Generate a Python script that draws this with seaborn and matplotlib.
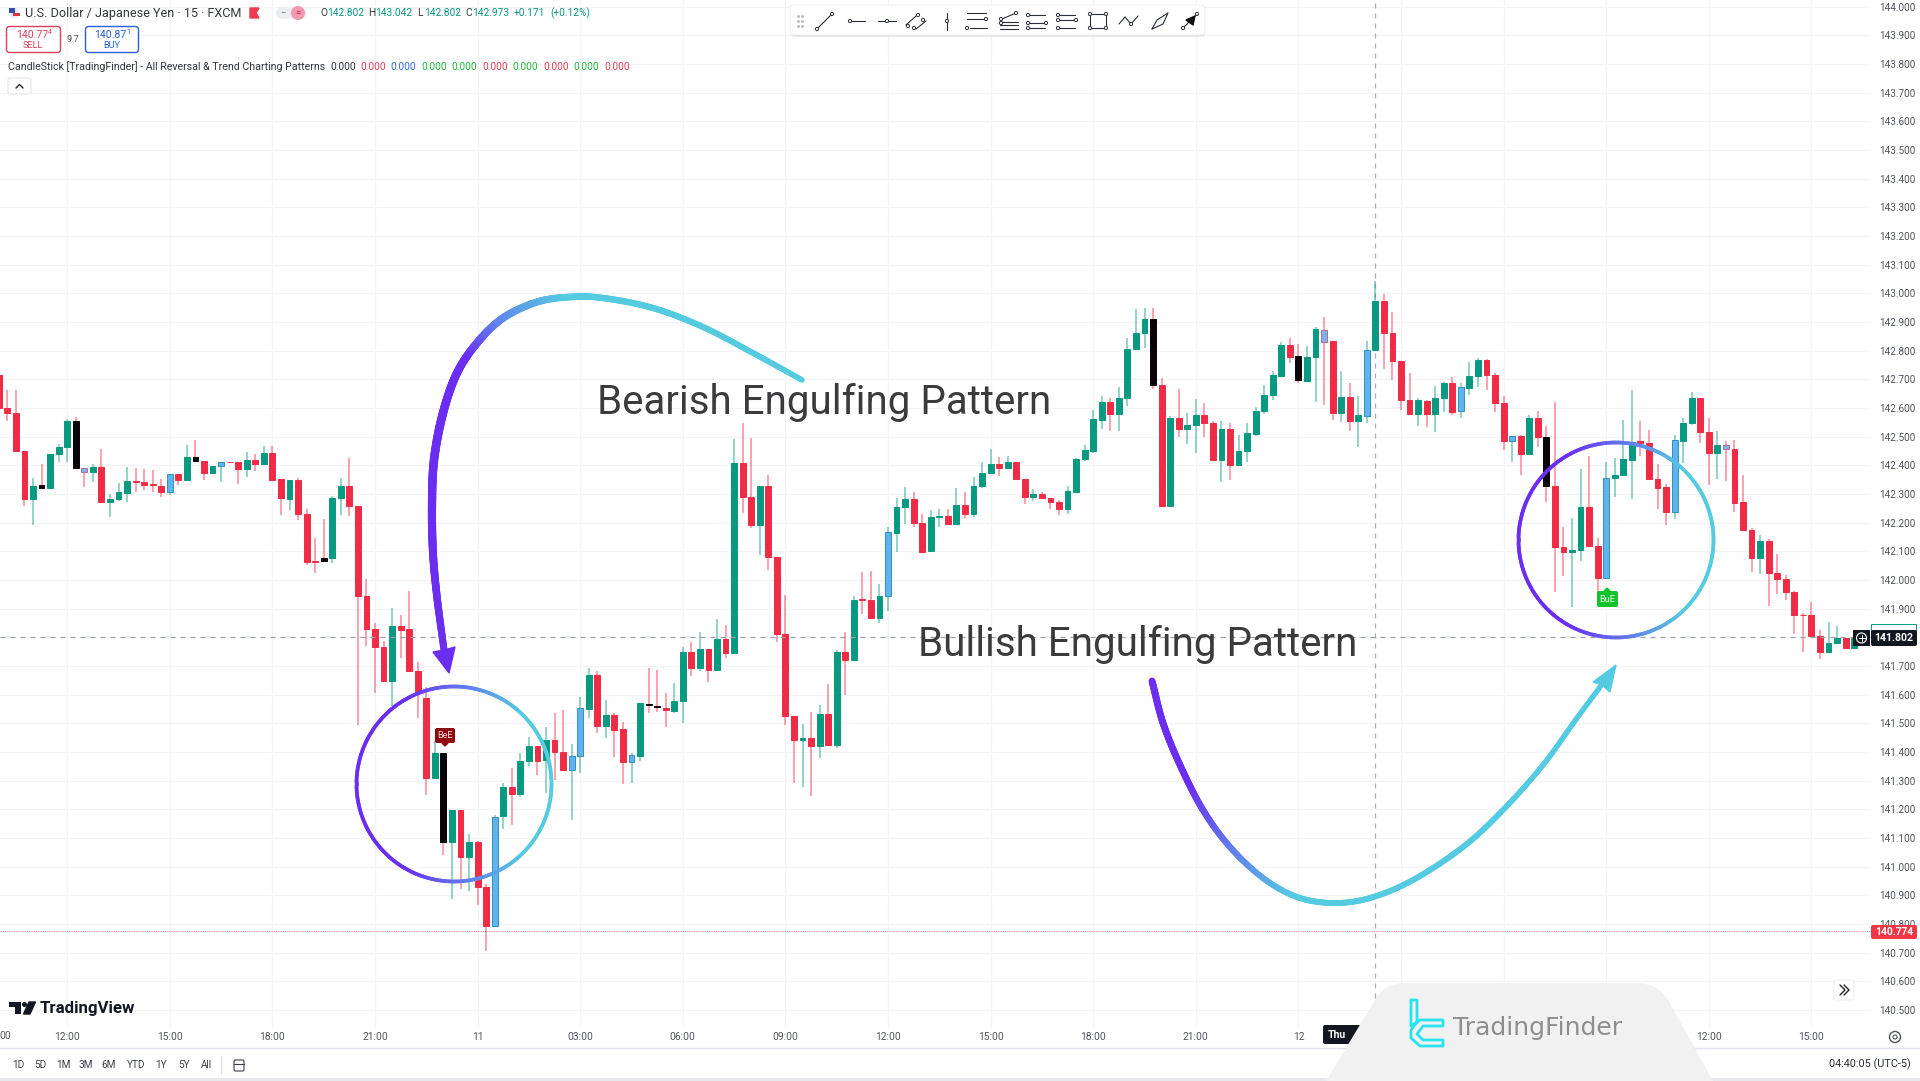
# USD/JPY 15m candles with engulfing pattern notes

import numpy as np
import pandas as pd
import seaborn as sns
import matplotlib.pyplot as plt
from matplotlib.collections import LineCollection
from matplotlib.patches import Circle, FancyBboxPatch, PathPatch, Polygon, Rectangle
from matplotlib.path import Path

# candle data, first candle is bar -56, bar 0 is the "11" tick
highs = [
    142.714,142.664,142.664,142.451,142.356,142.405,142.438,142.474,142.561,142.567,
    142.390,142.405,142.457,142.300,142.338,142.394,142.391,142.387,142.383,142.351,
    142.371,142.371,142.471,142.487,142.415,142.398,142.413,142.413,142.410,142.445,
    142.441,142.467,142.467,142.351,142.348,142.356,142.247,142.147,142.211,142.294,
    142.356,142.426,142.259,142.004,141.849,141.786,141.903,141.876,141.960,141.713,
    141.626,141.439,141.395,141.199,141.199,141.112,141.088,140.939,141.179,141.292,
    141.343,141.398,141.451,141.422,141.488,141.535,141.547,141.428,141.591,141.694,
    141.684,141.581,141.537,141.503,141.398,141.572,141.692,141.686,141.605,141.642,
    141.765,141.785,141.820,141.759,141.863,141.843,142.491,142.547,142.494,142.328,
    142.366,142.081,141.948,141.527,141.498,141.541,141.564,141.637,141.756,141.817,
    141.944,142.027,142.031,141.986,142.186,142.285,142.323,142.306,142.230,142.244,
    142.247,142.247,142.320,142.306,142.358,142.413,142.456,142.428,142.433,142.413,
    142.352,142.316,142.305,142.287,142.279,142.328,142.424,142.469,142.593,142.643,
    142.634,142.672,142.843,142.944,142.950,142.950,142.703,142.573,142.666,142.584,
    142.630,142.616,142.555,142.555,142.547,142.506,142.549,142.602,142.680,142.729,
    142.831,142.843,142.823,142.817,142.881,142.916,142.835,142.729,142.686,142.642,
    142.835,143.042,142.997,142.933,142.762,142.723,142.636,142.626,142.678,142.690,
    142.709,142.686,142.759,142.773,142.770,142.723,142.642,142.502,142.506,142.576,
    142.590,142.538,142.622,142.183,142.217,142.386,142.433,142.145,142.413,142.427,
    142.558,142.663,142.555,142.523,142.405,142.335,142.506,142.564,142.655,142.634,
    142.566,142.520,142.483,142.488,142.366,142.180,142.157,142.142,142.091,142.017,
    141.962,141.884,141.924,141.826,141.852,141.840,141.799,141.802]

lows = [
    142.601,142.554,142.451,142.258,142.191,142.320,142.320,142.410,142.410,142.390,
    142.324,142.343,142.271,142.220,142.274,142.271,142.307,142.314,142.307,142.290,
    142.298,142.330,142.347,142.410,142.350,142.374,142.343,142.410,142.335,142.360,
    142.381,142.401,142.350,142.227,142.243,142.210,142.051,142.024,142.067,142.060,
    142.227,142.223,141.495,141.769,141.606,141.649,141.559,141.726,141.680,141.519,
    141.250,141.308,141.039,140.888,140.923,140.915,140.865,140.705,140.794,141.132,
    141.146,141.244,141.352,141.320,141.256,141.302,141.337,141.163,141.328,141.520,
    141.467,141.448,141.384,141.288,141.293,141.370,141.537,141.541,141.488,141.535,
    141.502,141.665,141.684,141.645,141.686,141.727,141.744,142.233,142.180,142.087,
    142.035,141.783,141.494,141.291,141.277,141.248,141.378,141.424,141.413,141.599,
    141.719,141.881,141.866,141.849,141.893,142.099,142.195,142.184,142.095,142.100,
    142.186,142.195,142.195,142.215,142.219,142.320,142.370,142.363,142.390,142.349,
    142.265,142.277,142.284,142.247,142.227,142.229,142.308,142.416,142.442,142.528,
    142.520,142.521,142.605,142.805,142.808,142.666,142.258,142.258,142.500,142.473,
    142.442,142.498,142.419,142.342,142.349,142.402,142.413,142.503,142.578,142.626,
    142.713,142.758,142.686,142.690,142.620,142.610,142.558,142.552,142.521,142.465,
    142.549,142.802,142.736,142.698,142.593,142.578,142.537,142.533,142.517,142.585,
    142.576,142.564,142.645,142.674,142.663,142.587,142.453,142.413,142.366,142.440,
    142.462,142.273,141.959,142.012,141.905,142.067,142.120,141.942,142.006,142.291,
    142.367,142.281,142.433,142.353,142.247,142.192,142.213,142.409,142.541,142.479,
    142.331,142.352,142.345,142.238,142.174,142.029,142.021,141.909,141.950,141.930,
    141.810,141.750,141.805,141.723,141.748,141.779,141.764,141.764]

body_tops = [
    142.714,142.601,142.581,142.451,142.327,142.330,142.438,142.463,142.554,142.554,
    142.390,142.395,142.395,142.284,142.306,142.344,142.346,142.340,142.335,142.328,
    142.368,142.368,142.430,142.429,142.415,142.397,142.411,142.413,142.410,142.418,
    142.418,142.443,142.443,142.351,142.348,142.348,142.231,142.065,142.076,142.287,
    142.326,142.326,142.259,141.943,141.828,141.766,141.840,141.838,141.828,141.684,
    141.587,141.395,141.395,141.196,141.196,141.085,141.085,140.928,141.172,141.279,
    141.279,141.370,141.422,141.422,141.440,141.440,141.401,141.387,141.552,141.669,
    141.669,141.529,141.529,141.479,141.390,141.570,141.567,141.560,141.553,141.576,
    141.748,141.748,141.758,141.758,141.795,141.795,142.409,142.409,142.288,142.326,
    142.326,142.079,141.810,141.527,141.447,141.448,141.533,141.533,141.748,141.748,
    141.930,141.934,141.930,141.945,142.166,142.253,142.284,142.284,142.200,142.219,
    142.222,142.222,142.262,142.262,142.326,142.372,142.403,142.403,142.412,142.412,
    142.352,142.300,142.299,142.286,142.273,142.309,142.423,142.453,142.562,142.620,
    142.620,142.636,142.806,142.863,142.909,142.909,142.680,142.564,142.564,142.541,
    142.574,142.574,142.549,142.527,142.527,142.451,142.513,142.591,142.644,142.714,
    142.820,142.820,142.780,142.776,142.874,142.872,142.833,142.638,142.638,142.574,
    142.801,142.973,142.973,142.863,142.762,142.628,142.626,142.624,142.636,142.687,
    142.687,142.672,142.712,142.767,142.767,142.716,142.616,142.501,142.502,142.564,
    142.564,142.500,142.328,142.116,142.105,142.255,142.255,142.119,142.356,142.367,
    142.421,142.481,142.484,142.479,142.353,142.323,142.488,142.549,142.634,142.634,
    142.515,142.471,142.469,142.456,142.271,142.174,142.135,142.135,142.023,142.003,
    141.959,141.879,141.876,141.805,141.779,141.798,141.798,141.802]

body_bottoms = [
    142.601,142.581,142.451,142.284,142.284,142.320,142.320,142.438,142.462,142.390,
    142.378,142.378,142.271,142.271,142.284,142.304,142.340,142.332,142.330,142.308,
    142.308,142.347,142.347,142.415,142.374,142.374,142.399,142.410,142.386,142.386,
    142.406,142.406,142.350,142.287,142.284,142.231,142.064,142.064,142.067,142.076,
    142.286,142.259,141.943,141.829,141.766,141.649,141.649,141.826,141.682,141.606,
    141.310,141.308,141.085,141.085,141.035,141.035,140.928,140.794,140.794,141.175,
    141.253,141.253,141.369,141.369,141.372,141.400,141.337,141.337,141.386,141.550,
    141.492,141.492,141.477,141.366,141.366,141.387,141.563,141.556,141.545,141.544,
    141.576,141.694,141.694,141.686,141.686,141.744,141.744,142.288,142.192,142.192,
    142.079,141.810,141.527,141.440,141.440,141.419,141.419,141.424,141.424,141.719,
    141.719,141.930,141.866,141.866,141.945,142.165,142.253,142.198,142.099,142.100,
    142.219,142.195,142.195,142.229,142.229,142.326,142.372,142.390,142.390,142.352,
    142.288,142.288,142.286,142.272,142.248,142.248,142.308,142.422,142.451,142.559,
    142.578,142.578,142.635,142.805,142.863,142.680,142.258,142.258,142.526,142.526,
    142.541,142.549,142.419,142.419,142.402,142.402,142.450,142.510,142.590,142.644,
    142.713,142.779,142.698,142.695,142.776,142.831,142.584,142.584,142.556,142.556,
    142.573,142.802,142.860,142.762,142.626,142.578,142.578,142.579,142.579,142.635,
    142.587,142.588,142.671,142.710,142.716,142.616,142.483,142.483,142.440,142.440,
    142.500,142.328,142.116,142.097,142.097,142.105,142.120,142.006,142.006,142.356,
    142.367,142.420,142.479,142.353,142.322,142.238,142.238,142.486,142.547,142.515,
    142.442,142.442,142.456,142.270,142.174,142.077,142.077,142.023,142.003,141.959,
    141.878,141.876,141.805,141.750,141.750,141.779,141.764,141.764]

# r red, g green, k black pattern, b blue pattern, p purple pattern
kinds = ("rrrrgkgggk" "pgrgggrrrr" "brgkrgbrrg" "rgrrgrrrkg" "grrrrrgrrr"
         "rgkgrgrrbg" "rggrgrrbbg" "rgrrbgkkrg" "grgrgrgrrg" "rrrrgrgrgr"
         "grrgbggrrg" "grgrgggrgr" "rgrrrggggg" "rgggg" "krgrg" "grrgrggggg"
         "grkggprgrg" "bgrrrrgrgg" "rbggrrrbrg" "rkrrggrrbg" "ggrrrrbggr"
         "rgprrrgrrr" "rrrrggrg")
first_bar = -56

price_ticks = [144.0 - 0.1 * i for i in range(36)]
time_bars = [-48, -36, -24, -12, 0, 12, 24, 36, 48, 60, 72, 84, 96, 108, 120, 132, 144, 156]
# the three empty ones sit behind the watermark panel
time_labels = ["12:00", "15:00", "18:00", "21:00", "11", "03:00", "06:00", "09:00", "12:00",
               "15:00", "18:00", "21:00", "12", "", "", "", "12:00", "15:00"]
last_price = 141.802
bid_price = 140.774
cross_bar = 105
range_labels = ["1D", "5D", "1M", "3M", "6M", "YTD", "1Y", "5Y", "All"]

colors_body = {"r": "#F02B46", "g": "#089981", "k": "#0A0408", "b": "#5FB4EE", "p": "#7DB2EA"}
colors_edge = {"r": "#F02B46", "g": "#089981", "k": "#0A0408", "b": "#2F93B8", "p": "#B56C92"}
colors_wick = {"r": "#F02B46", "g": "#089981", "k": "#F02B46", "b": "#089981", "p": "#F02B46"}

df = pd.DataFrame({"bar": np.arange(len(highs)) + first_bar, "high": highs, "low": lows,
                   "top": body_tops, "bottom": body_bottoms, "kind": list(kinds)})
df["height"] = df["top"] - df["bottom"]

sns.set_theme(style="white")
plt.rcParams["font.family"] = ["Roboto", "DejaVu Sans"]

fig = plt.figure(figsize=(19.2, 10.81), dpi=100, facecolor="white")
ax = fig.add_axes([0, 1 - 1028 / 1081, 1871 / 1920, 1028 / 1081])

# grid first, candles on top
ax.hlines(price_ticks, -60, 170, color="#F3F4F6", lw=0.9, zorder=0)
ax.vlines(time_bars, 140, 145, color="#F3F4F6", lw=0.9, zorder=0)

# wicks
for kind, group in df.groupby("kind"):
    ax.vlines(group["bar"], group["low"], group["high"], color=colors_wick[kind],
              lw=1.1, alpha=0.55, zorder=2)

# bodies through seaborn, then coloured per candle
sns.barplot(data=df, x="bar", y="height", bottom=df["bottom"].values, native_scale=True,
            width=0.68, errorbar=None, color="#089981", ax=ax, zorder=3)
for patch, kind in zip(ax.patches, df["kind"]):
    patch.set_facecolor(colors_body[kind])
    patch.set_edgecolor(colors_edge[kind])
    patch.set_linewidth(0.7)

# crosshair and price lines
ax.axhline(last_price, color="#9A9EA6", lw=0.9, ls=(0, (4, 4)), zorder=4)
ax.axvline(cross_bar, color="#A8ACB3", lw=0.9, ls=(0, (4, 4)), zorder=1)
ax.axhline(bid_price, color="#F23645", lw=0.8, ls=(0, (1, 1)), alpha=0.6, zorder=4)

ax.set_xlim(-55.86, 162.97)
ax.set_ylim(140.437, 144.023)
ax.yaxis.tick_right()
ax.set_yticks(price_ticks)
# 141.800 is covered by the crosshair tag
ax.set_yticklabels(["" if abs(p - 141.8) < 0.01 else "%.3f" % p for p in price_ticks],
                   fontsize=7.2, color="#50535E")
ax.set_xticks(time_bars)
ax.set_xticklabels(time_labels, fontsize=7.4, color="#50535E")
ax.tick_params(axis="y", length=0, pad=6)
ax.tick_params(axis="x", length=0, pad=3)
ax.set_xlabel("")
ax.set_ylabel("")
sns.despine(ax=ax, left=True, bottom=True, right=True, top=True)
ax.set_facecolor("none")

# pixel overlay for notes and the trading platform chrome
ov = fig.add_axes([0, 0, 1, 1], facecolor="none")
ov.set_xlim(0, 1920)
ov.set_ylim(1081, 0)
ov.axis("off")


def smooth(points, k=30):
    p = np.array(points, dtype=float)
    p = np.vstack([2 * p[0] - p[1], p, 2 * p[-1] - p[-2]])
    out = []
    for i in range(1, len(p) - 2):
        t = np.linspace(0, 1, k, endpoint=False)[:, None]
        out.append(0.5 * (2 * p[i] + (p[i + 1] - p[i - 1]) * t
                          + (2 * p[i - 1] - 5 * p[i] + 4 * p[i + 1] - p[i + 2]) * t ** 2
                          + (3 * p[i] - p[i - 1] - 3 * p[i + 1] + p[i + 2]) * t ** 3))
    out.append(p[-2][None, :])
    return np.vstack(out)


def gradient_line(xy, stops, cols, widths):
    # stops go along the path from 0 to 1
    d = np.r_[0, np.cumsum(np.hypot(*np.diff(xy, axis=0).T))]
    t = d / d[-1]
    rgb = np.array([plt.matplotlib.colors.to_rgb(c) for c in cols])
    seg_col = np.c_[[np.interp(t[:-1], stops, rgb[:, j]) for j in range(3)]].T
    seg_w = np.interp(t[:-1], np.linspace(0, 1, len(widths)), widths)
    segs = np.stack([xy[:-1], xy[1:]], axis=1)
    ov.add_collection(LineCollection(segs, colors=seg_col, linewidths=seg_w,
                                     capstyle="round", zorder=6))


PURPLE = "#6B2EF0"
BLUE = "#5F86EC"
CYAN = "#55CBE2"

# bearish arrow
arrow_a = smooth([(802, 380), (753, 353), (703, 327), (653, 308), (603, 298), (570, 297),
                  (537, 302), (503, 318), (477, 343), (457, 373), (443, 413), (434, 460),
                  (432, 507), (433, 553), (437, 597), (444, 650)])
gradient_line(arrow_a, [0, 0.38, 0.49, 0.56, 1], [CYAN, CYAN, BLUE, PURPLE, PURPLE],
              [4.0, 4.4, 4.6, 5.6, 6.2, 5.8, 5.0])
ov.add_patch(Polygon([(449, 673), (433, 652), (444, 650), (455, 647)], color=PURPLE, zorder=6))

# bullish arrow
arrow_b = smooth([(1152, 681), (1163, 723), (1180, 765), (1203, 810), (1230, 847), (1263, 878),
                  (1297, 897), (1333, 903), (1370, 898), (1413, 880), (1463, 847), (1503, 810),
                  (1543, 765), (1577, 718), (1603, 683)])
gradient_line(arrow_b, [0, 0.17, 0.3, 0.4, 1], [PURPLE, PURPLE, BLUE, CYAN, CYAN],
              [5.0, 4.8, 4.3, 4.2, 4.2, 3.9, 3.6])
ov.add_patch(Polygon([(1616, 665), (1593, 682), (1602, 685), (1610, 692)], color=CYAN, zorder=6))

# pattern circles, purple on the left, cyan on the right
for cx, cy, r in [(454, 784, 97.5), (1616, 540, 97.5)]:
    ang = np.linspace(0, 2 * np.pi, 240)
    xy = np.c_[cx + r * np.cos(ang), cy + r * np.sin(ang)]
    t = (xy[:, 0] - (cx - r)) / (2 * r)
    rgb = np.array([plt.matplotlib.colors.to_rgb(c) for c in [PURPLE, PURPLE, BLUE, CYAN, CYAN]])
    col = np.c_[[np.interp(t[:-1], [0, 0.25, 0.6, 0.85, 1], rgb[:, j]) for j in range(3)]].T
    ov.add_collection(LineCollection(np.stack([xy[:-1], xy[1:]], axis=1), colors=col,
                                     linewidths=2.7, capstyle="round", zorder=6))

ov.text(597, 402, "Bearish Engulfing Pattern", fontsize=29, color="#3B3B3D", va="center", ha="left", zorder=7)
ov.text(918, 644, "Bullish Engulfing Pattern", fontsize=29, color="#3B3B3D", va="center", ha="left", zorder=7)

# pattern tags
ov.add_patch(FancyBboxPatch((435, 728), 20, 15, boxstyle="round,pad=0,rounding_size=2", fc="#8E0A0F", ec="none", zorder=5))
ov.add_patch(Polygon([(442, 743), (448, 743), (445, 746)], color="#8E0A0F", zorder=5))
ov.text(445, 735.5, "BeE", fontsize=6.6, color="#F3DADA", ha="center", va="center", zorder=5)
ov.add_patch(FancyBboxPatch((1597, 591), 21, 16, boxstyle="round,pad=0,rounding_size=2", fc="#15C42C", ec="none", zorder=5))
ov.add_patch(Polygon([(1604, 591), (1610, 591), (1607, 588)], color="#15C42C", zorder=5))
ov.text(1607.5, 599, "BuE", fontsize=6.6, color="#E4F8E6", ha="center", va="center", zorder=5)

# price tags on the scale
ov.add_patch(Rectangle((1871, 624), 45, 8, fc="white", ec="#089981", lw=0.7, zorder=7))
ov.add_patch(FancyBboxPatch((1871, 630), 46, 16, boxstyle="round,pad=0,rounding_size=2", fc="#131722", ec="none", zorder=8))
ov.text(1893.5, 638, "141.802", fontsize=7.6, color="white", ha="center", va="center", fontweight="bold", zorder=9)
ov.add_patch(Rectangle((1853, 630), 17, 16, fc="#131722", ec="none", zorder=8))
ov.add_patch(Circle((1861.5, 638), 5, fc="none", ec="white", lw=0.8, zorder=9))
ov.plot([1858.5, 1864.5], [638, 638], color="white", lw=0.7, zorder=9)
ov.plot([1861.5, 1861.5], [635, 641], color="white", lw=0.7, zorder=9)
ov.add_patch(FancyBboxPatch((1871, 925), 46, 14, boxstyle="round,pad=0,rounding_size=2", fc="#F23645", ec="none", zorder=8))
ov.text(1894, 932, "140.774", fontsize=7.4, color="white", ha="center", va="center", fontweight="bold", zorder=9)

# header
ov.add_patch(Circle((14, 13), 5.5, fc="#E8EDF8", ec="none"))
ov.add_patch(Rectangle((9, 8), 6, 5, fc="#2F4FA8", ec="none"))
ov.add_patch(Rectangle((13, 13), 7, 2.5, fc="#D8324A", ec="none"))
ov.text(25, 13, "U.S. Dollar / Japanese Yen · 15 · FXCM", fontsize=9.1, color="#333640", va="center")
ov.add_patch(Polygon([(250, 8), (259, 8), (256, 13), (259, 18), (250, 18)], color="#EE3B4E"))
ov.add_patch(FancyBboxPatch((276, 7), 30, 12, boxstyle="round,pad=0,rounding_size=6", fc="#EDEEF1", ec="none"))
ov.add_patch(Circle((298, 13), 7, fc="#F29AB0", ec="none"))
ov.text(283.5, 13, "−", fontsize=7, color="#777", ha="center", va="center")
ov.text(298, 13, "=", fontsize=7, color="#D8284E", ha="center", va="center")
ohlc_x = [320, 368, 417, 465]
ohlc_letters = ["O", "H", "L", "C"]
ohlc_values = ["142.802", "143.042", "142.802", "142.973"]
for xx, letter, value in zip(ohlc_x, ohlc_letters, ohlc_values):
    ov.text(xx, 13, letter, fontsize=7.3, color="#333640", va="center")
    ov.text(xx + 7, 13, value, fontsize=7.3, color="#089981", va="center")
ov.text(514, 13, "+0.171", fontsize=7.3, color="#089981", va="center")
ov.text(550, 13, "(+0.12%)", fontsize=7.3, color="#089981", va="center")

# sell and buy boxes
ov.add_patch(FancyBboxPatch((6.5, 26.5), 54, 26, boxstyle="round,pad=0,rounding_size=3", fc="white", ec="#D9405A", lw=1))
ov.add_patch(FancyBboxPatch((85.5, 26.5), 53, 26, boxstyle="round,pad=0,rounding_size=3", fc="white", ec="#2962D8", lw=1))
ov.text(32, 34.5, "140.77", fontsize=7.6, color="#D9405A", ha="center", va="center")
ov.text(50, 33, "4", fontsize=5, color="#D9405A", ha="center", va="center")
ov.text(33, 45, "SELL", fontsize=6.6, color="#D9405A", ha="center", va="center")
ov.text(72.5, 39, "9.7", fontsize=6.6, color="#50535E", ha="center", va="center")
ov.text(110, 34.5, "140.87", fontsize=7.6, color="#2962D8", ha="center", va="center")
ov.text(128, 33, "1", fontsize=5, color="#2962D8", ha="center", va="center")
ov.text(112, 45, "BUY", fontsize=6.6, color="#2962D8", ha="center", va="center")

# indicator line
ov.text(7.5, 67, "CandleStick [TradingFinder] - All Reversal & Trend Charting Patterns", fontsize=7.65, color="#333640", va="center")
ind_x = [330, 360, 390.5, 421, 451.6, 482, 512, 543, 573, 604]
ind_colors = ["#333640", "#E0405A", "#2F6FD8", "#22B83C", "#22B83C", "#E0405A", "#22B83C", "#E0405A", "#22B83C", "#E0405A"]
for xx, cc in zip(ind_x, ind_colors):
    ov.text(xx, 67, "0.000", fontsize=7.3, color=cc, va="center")
ov.add_patch(FancyBboxPatch((8, 78), 23, 16, boxstyle="round,pad=0,rounding_size=2", fc="white", ec="#E0E3EB", lw=0.8))
ov.plot([16, 19.5, 23], [88, 84.5, 88], color="#222", lw=1)

# drawing toolbar
ov.add_patch(FancyBboxPatch((791, 7), 414, 30, boxstyle="round,pad=0,rounding_size=4", fc="#D8D8DA", ec="none", alpha=0.55, zorder=6))
ov.add_patch(FancyBboxPatch((790, 5), 415, 30, boxstyle="round,pad=0,rounding_size=4", fc="white", ec="#ECECEE", lw=0.6, zorder=7))
ov.scatter([798, 802] * 3, [16, 16, 21, 21, 26, 26], s=1.2, color="#B8BBC2", zorder=8)
tool_icons = [
    (825, [[(-8, 8), (7, -7)]], [(-8, 8), (7, -7)]),
    (856, [[(-5, 0), (9, 0)]], [(-6, 0)]),
    (887, [[(-9, 0), (9, 0)]], [(0, 0)]),
    (917, [[(-11, 4), (-1, -5)], [(-1, 8), (9, 0)]], [(-9, 5), (1, -6), (-3, 7), (6, -1)]),
    (947, [[(0, -8), (0, 9)]], [(0, 0)]),
    (977, [[(-10, -8), (9, -8)], [(-10, -2), (7, -2)], [(-7, 7), (10, 7)]], [(9, -2), (-10, 7)]),
    (1008, [[(-6, -2), (8, -8)], [(-8, 1), (10, 1)], [(-8, 4), (10, 4)], [(-8, 8), (10, 8)]], [(-7, -2), (8, -8), (-7, 2)]),
    (1037, [[(-8, -6), (8, -6)], [(-8, 2), (8, 2)], [(-8, 7), (8, 7)]], [(-9, -6), (-9, 2), (9, 2), (-9, 7)]),
    (1067, [[(-8, -6), (8, -6)], [(-8, -1), (8, -1)], [(-8, 7), (8, 7)]], [(-9, -6), (-9, -1), (9, -1), (-9, 7)]),
    (1098, [[(-8, -7), (8, -7), (8, 7), (-8, 7), (-8, -7)]], [(-8, -7), (8, -7), (8, 7), (-8, 7)]),
    (1129, [[(-10, 3), (-4, -4), (2, 3), (9, -5)]], [(2, 3)]),
    (1160, [[(-8, 8), (-3, -1), (8, -8), (3, 3), (-8, 8)]], []),
    (1190, [[(-7, 7), (7, -7)]], [(-7, 7), (7, -7)]),
]
for cx, lines, nodes in tool_icons:
    for line in lines:
        ov.plot([cx + p[0] for p in line], [21 + p[1] for p in line], color="#2A2E39", lw=0.8, zorder=8)
    for node in nodes:
        ov.add_patch(Circle((cx + node[0], 21 + node[1]), 1.6, fc="white", ec="#2A2E39", lw=0.7, zorder=9))
ov.add_patch(Polygon([(1195, 16), (1186, 20), (1193, 25)], color="#111", zorder=9))

# bottom of the chart
ov.plot([0, 1920], [1048, 1048], color="#E0E3EB", lw=1)
ov.add_patch(Rectangle((0, 1078), 1920, 4, fc="#E6E8EC", ec="none"))
ov.text(5, 1036, "00", fontsize=7.4, color="#50535E", ha="center", va="center")
range_x = [18, 40, 63, 86, 109, 136, 161, 184, 206]
for xx, lab in zip(range_x, range_labels):
    ov.text(xx, 1065, lab, fontsize=7.2, color="#3A3D47", ha="center", va="center")
ov.plot([221, 221], [1056, 1074], color="#E0E3EB", lw=1)
ov.add_patch(FancyBboxPatch((234, 1060), 10, 11, boxstyle="round,pad=0,rounding_size=1.5", fc="none", ec="#3A3D47", lw=0.8))
ov.plot([234, 244], [1063.5, 1063.5], color="#3A3D47", lw=0.8)
ov.text(1911, 1064, "04:40:05 (UTC-5)", fontsize=7.8, color="#2A2E39", ha="right", va="center")
ov.add_patch(Circle((1895, 1037), 5.5, fc="none", ec="#50535E", lw=1))
ov.add_patch(Circle((1895, 1037), 2, fc="none", ec="#50535E", lw=0.8))
ov.add_patch(FancyBboxPatch((1834, 980), 20, 20, boxstyle="round,pad=0,rounding_size=2", fc="white", ec="#F0F0F2", lw=0.8, zorder=5))
ov.plot([1840, 1845, 1840], [985, 990, 995], color="#222", lw=1, zorder=6)
ov.plot([1844, 1849, 1844], [985, 990, 995], color="#222", lw=1, zorder=6)

# TradingView logo
ov.add_patch(Rectangle((9, 1002), 12, 5, fc="#131722", ec="none"))
ov.add_patch(Rectangle((15, 1002), 6, 12, fc="#131722", ec="none"))
ov.add_patch(Circle((24.5, 1004.5), 2.5, fc="#131722", ec="none"))
ov.add_patch(Polygon([(29, 1002), (35.5, 1002), (30, 1014), (23.5, 1014)], color="#131722"))
ov.text(40, 1009, "TradingView", fontsize=12.2, color="#131722", va="center", fontweight="bold")

# crosshair date tag and watermark panel
ov.add_patch(FancyBboxPatch((1323, 1025), 70, 19, boxstyle="round,pad=0,rounding_size=2", fc="#131722", ec="none", zorder=5))
ov.text(1328, 1035, "Thu", fontsize=7.6, color="white", va="center", zorder=5, fontweight="bold")
panel = Path([(1326, 1081), (1375, 1000), (1385, 983), (1405, 983), (1635, 983), (1658, 983), (1668, 1000), (1713, 1081), (1326, 1081)],
             [Path.MOVETO, Path.LINETO, Path.CURVE3, Path.CURVE3, Path.LINETO, Path.CURVE3, Path.CURVE3, Path.LINETO, Path.CLOSEPOLY])
ov.add_patch(PathPatch(panel, fc="#F1F1F2", ec="none", zorder=6))
logo_lines = [[(1411, 1000), (1417, 1000), (1417, 1022), (1411, 1030), (1411, 1038), (1420, 1046), (1443, 1046), (1443, 1040), (1423, 1040), (1417, 1034), (1423, 1026), (1443, 1026), (1443, 1020), (1420, 1020), (1411, 1026), (1411, 1000)]]
for line in logo_lines:
    ov.plot([p[0] for p in line], [p[1] for p in line], color="#27E4EE", lw=2, zorder=7)
ov.text(1453, 1028, "TradingFinder", fontsize=18, family="DejaVu Sans", color="#8E8E90", va="center", zorder=7)

fig.savefig("out.png", dpi=100)
